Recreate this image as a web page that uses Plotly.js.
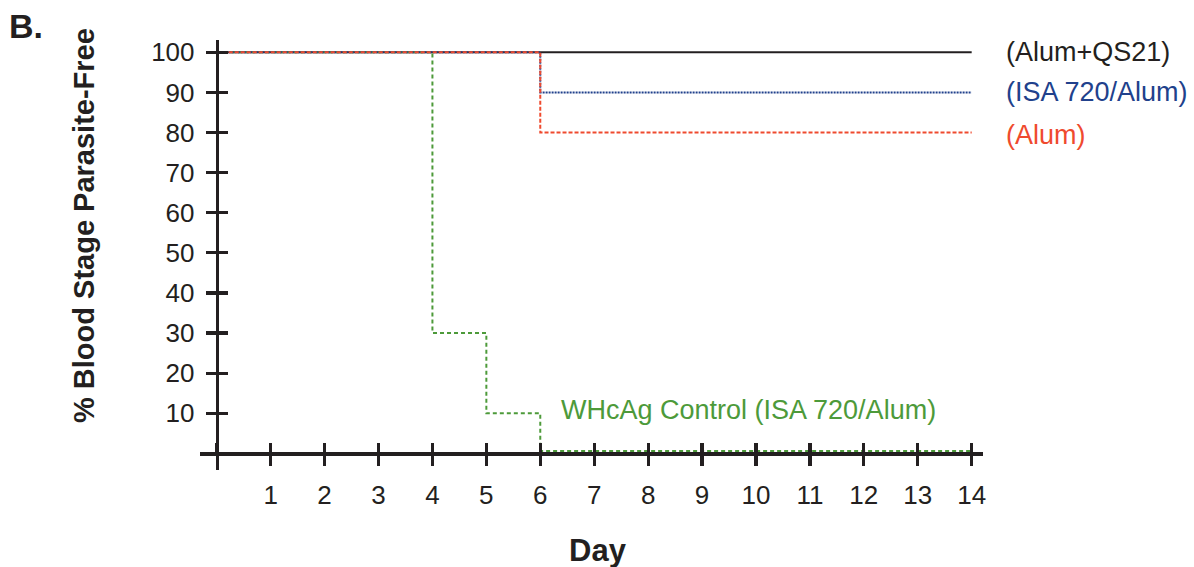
<!DOCTYPE html>
<html>
<head>
<meta charset="utf-8">
<script src="https://cdn.plot.ly/plotly-3.0.1.min.js"></script>
<style>html,body{margin:0;padding:0;background:#fff;}#chart{width:1194px;height:567px;}</style>
</head>
<body>
<div id="chart"></div>
<script>
// ---- data ----
const seriesNames = ["(Alum+QS21)", "(ISA 720/Alum)", "(Alum)", "WHcAg Control (ISA 720/Alum)"];
const daysAlumQS21 = [0, 6, 14];
const pctAlumQS21 = [100, 100, 100];
const daysISA720Alum = [0, 6, 14];
const pctISA720Alum = [100, 90, 90];
const daysAlum = [0, 6, 14];
const pctAlum = [100, 80, 80];
const daysControl = [0, 4, 5, 6, 14];
const pctControl = [100, 30, 10, 0.6, 0.6];
const xTickVals = [1, 2, 3, 4, 5, 6, 7, 8, 9, 10, 11, 12, 13, 14];
const yTickVals = [10, 20, 30, 40, 50, 60, 70, 80, 90, 100];
const yTitle = "% Blood Stage Parasite-Free";
const xTitle = "Day";
const panelLabel = "B.";

// ---- layout geometry ----
const W = 1194, H = 567;
const L = 200, R = 211, T = 40, B = 97;
const PW = W - L - R, PH = H - T - B;
const xRange = [-0.31, 14.21];
const yRange = [-4.16, 103.07];
const px = v => (v - L) / PW;
const py = v => (H - B - v) / PH;
const xAxisPos = (0 - yRange[0]) / (yRange[1] - yRange[0]);
const yAxisPos = (0 - xRange[0]) / (xRange[1] - xRange[0]);

const FONT = "Liberation Sans, Arial, Helvetica, sans-serif";
const INK = "#231f20";
const colors = [INK, "#21418c", "#ef4a2e", "#4d9a3a"];

const traces = [
  {x: daysAlumQS21, y: pctAlumQS21, name: seriesNames[0], line: {color: colors[0], width: 2, dash: "solid", shape: "hv"}},
  {x: daysControl, y: pctControl, name: seriesNames[3], line: {color: colors[3], width: 2, dash: "4px,3px", shape: "hv"}},
  {x: daysISA720Alum, y: pctISA720Alum, name: seriesNames[1], line: {color: colors[1], width: 2, dash: "2px,1px", shape: "hv"}},
  {x: daysAlum, y: pctAlum, name: seriesNames[2], line: {color: colors[2], width: 2, dash: "4px,2px", shape: "hv"}}
].map(t => Object.assign({type: "scatter", mode: "lines", hoverinfo: "skip", showlegend: false}, t));

// empty helper trace so the overlaid (inside-tick) axes are drawn
traces.push({type: "scatter", mode: "lines", x: [], y: [], xaxis: "x2", yaxis: "y2", showlegend: false, hoverinfo: "skip"});

const axCommon = {
  showgrid: false, zeroline: false, linecolor: INK, linewidth: 3.4,
  tickcolor: INK, tickwidth: 3.2, ticklen: 10,
  tickfont: {family: FONT, size: 26, color: INK}
};

const layout = {
  width: W, height: H,
  margin: {l: L, r: R, t: T, b: B, pad: 0},
  paper_bgcolor: "#fff", plot_bgcolor: "#fff",
  showlegend: false,
  xaxis: Object.assign({}, axCommon, {
    range: xRange, anchor: "free", position: xAxisPos,
    tickmode: "array", tickvals: xTickVals, ticks: "outside", showline: true,
    ticklabelstandoff: 7
  }),
  xaxis2: Object.assign({}, axCommon, {
    range: xRange, overlaying: "x", anchor: "free", position: xAxisPos, side: "bottom",
    tickmode: "array", tickvals: xTickVals.concat([0]), ticks: "inside", showline: false, showticklabels: false
  }),
  yaxis: Object.assign({}, axCommon, {
    range: yRange, anchor: "free", position: yAxisPos,
    tickmode: "array", tickvals: yTickVals, ticks: "outside", showline: true,
    ticklabelstandoff: 6
  }),
  yaxis2: Object.assign({}, axCommon, {
    range: yRange, overlaying: "y", anchor: "free", position: yAxisPos, side: "left",
    tickmode: "array", tickvals: yTickVals, ticks: "inside", showline: false, showticklabels: false
  }),
  annotations: [
    {text: seriesNames[0], xref: "paper", yref: "paper", x: px(1004), y: py(52), xanchor: "left", yanchor: "middle", showarrow: false,
     font: {family: FONT, size: 27, color: colors[0]}},
    {text: seriesNames[1], xref: "paper", yref: "paper", x: px(1004), y: py(92), xanchor: "left", yanchor: "middle", showarrow: false,
     font: {family: FONT, size: 27, color: colors[1]}},
    {text: seriesNames[2], xref: "paper", yref: "paper", x: px(1004), y: py(135), xanchor: "left", yanchor: "middle", showarrow: false,
     font: {family: FONT, size: 27, color: colors[2]}},
    {text: seriesNames[3], xref: "paper", yref: "paper", x: px(559), y: py(410), xanchor: "left", yanchor: "middle", showarrow: false,
     font: {family: FONT, size: 27, color: colors[3]}},
    {text: "<b>" + yTitle + "</b>", xref: "paper", yref: "paper", x: px(84), y: py(226), xanchor: "center", yanchor: "middle",
     textangle: -90, showarrow: false, font: {family: FONT, size: 29, color: INK}},
    {text: "<b>" + xTitle + "</b>", xref: "paper", yref: "paper", x: px(598), y: py(550), xanchor: "center", yanchor: "middle",
     showarrow: false, font: {family: FONT, size: 31, color: INK}},
    {text: "<b>" + panelLabel + "</b>", xref: "paper", yref: "paper", x: px(7), y: py(26), xanchor: "left", yanchor: "middle",
     showarrow: false, font: {family: FONT, size: 34, color: INK}}
  ]
};

Plotly.newPlot("chart", traces, layout, {staticPlot: true, displayModeBar: false});
</script>
</body>
</html>
